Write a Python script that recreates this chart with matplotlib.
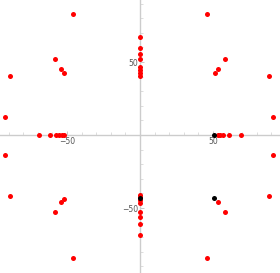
import numpy as np
import matplotlib.pyplot as plt

# red points
red_x = [-46, 46, -46, 46,
         -58.5, 58.2, -58.5, 58.2,
         -54, 53.3, -54, 53.2,
         -52.3, 51.6, -52.3,
         -88.8, 88.6, -88.8, 88.6,
         -92.2, 91.3, -92.2, 91.3,
         -69.4, -61.4, -57.7, -55.3, -53.4, -51.8,
         53.2, 54.8, 56.6, 61.2, 68.9,
         0, 0, 0, 0, 0, 0, 0, 0,
         0, 0, 0, 0, 0, 0, 0, 0]
red_y = [83, 83, -84, -84,
         52, 52, -52.7, -52.7,
         45, 45, -46, -46.1,
         42.7, 42.7, -43.8,
         40.4, 40.4, -41.8, -41.8,
         12.5, 12.5, -13.9, -13.9,
         0, 0, 0, 0, 0, 0,
         0, 0, 0, 0, 0,
         67.3, 59.4, 55.3, 51.8, 46.5, 44.5, 42.5, 40.5,
         -40.8, -42.5, -44.5, -46.5, -52.5, -55.9, -60.7, -68.7]

# black points
black_x = [50.9, 50.9, 0]
black_y = [0, -42.9, -43]

fig = plt.figure(figsize=(2.8, 2.73), dpi=100)
ax = fig.add_axes([0, 0, 1, 1])

ax.plot(red_x, red_y, 'o', color='red', markersize=3.6, markeredgewidth=0, zorder=3, clip_on=False)
ax.plot(black_x, black_y, 'o', color='black', markersize=3.6, markeredgewidth=0, zorder=4, clip_on=False)

ax.set_xlim(-95.9, 95.9)
ax.set_ylim(-94.5, 92.5)

for side in ['top', 'right']:
    ax.spines[side].set_visible(False)
for side in ['left', 'bottom']:
    ax.spines[side].set_position(('data', 0))
    ax.spines[side].set_color('#cccccc')
    ax.spines[side].set_linewidth(1.0)

ticks = [-50, 50]
minor = [v for v in range(-90, 100, 10) if v != 0]
ax.set_xticks(ticks)
ax.set_yticks(ticks)
ax.set_xticks(minor, minor=True)
ax.set_yticks(minor, minor=True)
ax.set_xticklabels(['\u221250', '50'])
ax.set_yticklabels(['\u221250', '50'])
ax.tick_params(which='major', direction='in', length=3, width=0.6, color='#c0c0c0',
               labelsize=5.5, labelcolor='#555555', pad=1.5)
ax.tick_params(which='minor', direction='in', length=2, width=0.5, color='#d0d0d0')

fig.savefig('out.png', dpi=100)
